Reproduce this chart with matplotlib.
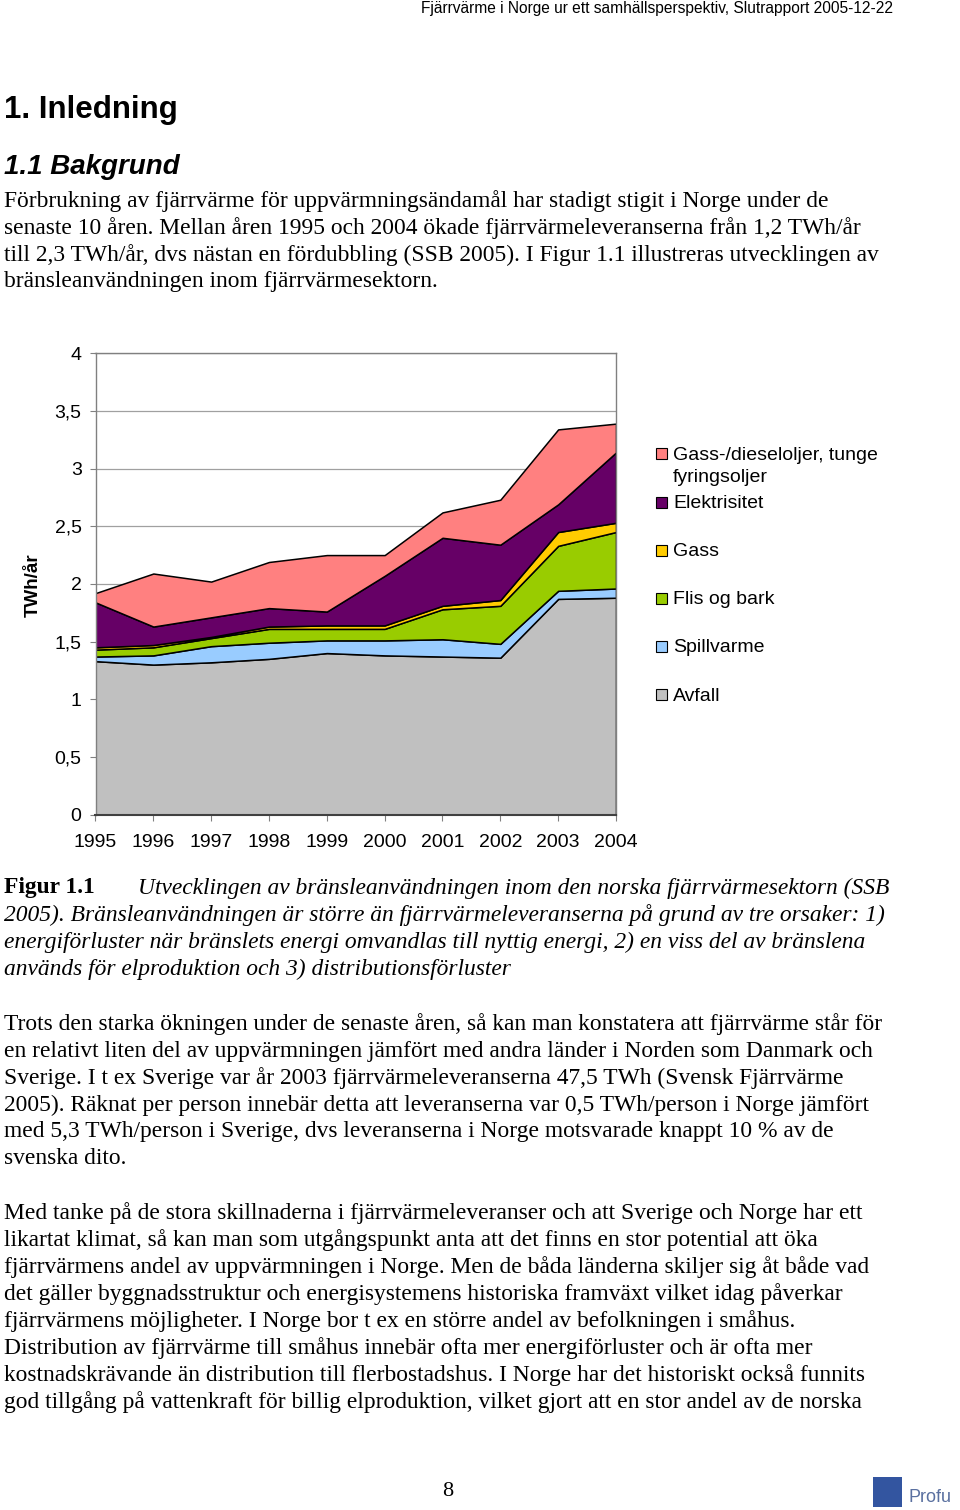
import matplotlib.pyplot as plt
from matplotlib.patches import Rectangle

YEARS = [1995, 1996, 1997, 1998, 1999, 2000, 2001, 2002, 2003, 2004]
SERIES = ["Avfall", "Spillvarme", "Flis og bark", "Gass", "Elektrisitet",
          "Gass-/dieseloljer, tunge\nfyringsoljer"]
AVFALL = [1.33, 1.30, 1.32, 1.35, 1.40, 1.38, 1.37, 1.36, 1.87, 1.88]
SPILLVARME = [0.04, 0.08, 0.14, 0.14, 0.11, 0.13, 0.15, 0.12, 0.07, 0.08]
FLIS = [0.06, 0.07, 0.07, 0.12, 0.10, 0.10, 0.26, 0.33, 0.39, 0.49]
GASS = [0.02, 0.02, 0.01, 0.02, 0.03, 0.03, 0.03, 0.05, 0.12, 0.08]
EL = [0.39, 0.16, 0.17, 0.16, 0.12, 0.43, 0.59, 0.48, 0.24, 0.61]
OLJA = [0.08, 0.46, 0.31, 0.40, 0.49, 0.18, 0.22, 0.39, 0.65, 0.25]
COLORS = ["#C0C0C0", "#99CCFF", "#99CC00", "#FFCC00", "#660066", "#FF8080"]
Y_TICKS = [0, 0.5, 1, 1.5, 2, 2.5, 3, 3.5, 4]
Y_TICK_LABELS = ["0", "0,5", "1", "1,5", "2", "2,5", "3", "3,5", "4"]

HEADER = "Fjärrvärme i Norge ur ett samhällsperspektiv, Slutrapport 2005-12-22"
PARA1 = [
    "Förbrukning av fjärrvärme för uppvärmningsändamål har stadigt stigit i Norge under de",
    "senaste 10 åren. Mellan åren 1995 och 2004 ökade fjärrvärmeleveranserna från 1,2 TWh/år",
    "till 2,3 TWh/år, dvs nästan en fördubbling (SSB 2005). I Figur 1.1 illustreras utvecklingen av",
    "bränsleanvändningen inom fjärrvärmesektorn.",
]
CAPTION = [
    "Utvecklingen av bränsleanvändningen inom den norska fjärrvärmesektorn (SSB",
    "2005). Bränsleanvändningen är större än fjärrvärmeleveranserna på grund av tre orsaker: 1)",
    "energiförluster när bränslets energi omvandlas till nyttig energi, 2) en viss del av bränslena",
    "används för elproduktion och 3) distributionsförluster",
]
PARA2 = [
    "Trots den starka ökningen under de senaste åren, så kan man konstatera att fjärrvärme står för",
    "en relativt liten del av uppvärmningen jämfört med andra länder i Norden som Danmark och",
    "Sverige. I t ex Sverige var år 2003 fjärrvärmeleveranserna 47,5 TWh (Svensk Fjärrvärme",
    "2005). Räknat per person innebär detta att leveranserna var 0,5 TWh/person i Norge jämfört",
    "med 5,3 TWh/person i Sverige, dvs leveranserna i Norge motsvarade knappt 10 % av de",
    "svenska dito.",
]
PARA3 = [
    "Med tanke på de stora skillnaderna i fjärrvärmeleveranser och att Sverige och Norge har ett",
    "likartat klimat, så kan man som utgångspunkt anta att det finns en stor potential att öka",
    "fjärrvärmens andel av uppvärmningen i Norge. Men de båda länderna skiljer sig åt både vad",
    "det gäller byggnadsstruktur och energisystemens historiska framväxt vilket idag påverkar",
    "fjärrvärmens möjligheter. I Norge bor t ex en större andel av befolkningen i småhus.",
    "Distribution av fjärrvärme till småhus innebär ofta mer energiförluster och är ofta mer",
    "kostnadskrävande än distribution till flerbostadshus. I Norge har det historiskt också funnits",
    "god tillgång på vattenkraft för billig elproduktion, vilket gjort att en stor andel av de norska",
]

W, H = 960, 1510
SERIF = "Liberation Serif"
SANS = "Liberation Sans"
BODY = 16.9
CHART_FS = 14


def fx(x):
    return x / W


def fy(y):
    return 1 - y / H


def lines(fig, rows, y0, x=4, **kw):
    for i, row in enumerate(rows):
        fig.text(fx(x), fy(y0 + 27 * i), row, va="center", ha="left",
                 family=SERIF, fontsize=BODY, **kw)


fig = plt.figure(figsize=(W / 100, H / 100), dpi=100)

# page text
fig.text(fx(893), fy(8), HEADER, ha="right", va="center", family=SANS, fontsize=11.2)
fig.text(fx(4), fy(110), "1. Inledning", ha="left", va="center",
         family=SANS, fontsize=22.5, fontweight="bold")
fig.text(fx(4), fy(167), "1.1 Bakgrund", ha="left", va="center",
         family=SANS, fontsize=20, fontweight="bold", style="italic")
lines(fig, PARA1, 201)
fig.text(fx(4), fy(888), "Figur 1.1", ha="left", va="center",
         family=SERIF, fontsize=BODY, fontweight="bold")
fig.text(fx(138), fy(888), CAPTION[0], ha="left", va="center",
         family=SERIF, fontsize=BODY, style="italic")
lines(fig, CAPTION[1:], 915, style="italic")
lines(fig, PARA2, 1024)
lines(fig, PARA3, 1213)
fig.text(fx(448), fy(1492), "8", ha="center", va="center", family=SERIF, fontsize=16)
fig.patches.append(Rectangle((fx(873), fy(1507)), fx(29), 30 / H,
                             transform=fig.transFigure, facecolor="#3355a0",
                             edgecolor="none"))
fig.text(fx(908), fy(1497), "Profu", ha="left", va="center", family=SANS,
         fontsize=13, color="#5a70a0")

# chart
ax = fig.add_axes([fx(95.5), fy(814.5), (616 - 95.5) / W, (814.5 - 353.3) / H])
stack = [AVFALL, SPILLVARME, FLIS, GASS, EL, OLJA]
ax.stackplot(YEARS, *stack, colors=COLORS, edgecolor="black", linewidth=1.1,
             zorder=2)
ax.set_xlim(YEARS[0], YEARS[-1])
ax.set_ylim(0, 4)
ax.set_yticks(Y_TICKS)
ax.set_yticklabels(Y_TICK_LABELS)
ax.set_xticks(YEARS)
ax.set_xticklabels([str(y) for y in YEARS])
for lab in ax.get_xticklabels() + ax.get_yticklabels():
    lab.set_family(SANS)
    lab.set_fontsize(CHART_FS)
ax.tick_params(axis="y", length=4, color="#808080", pad=6)
ax.tick_params(axis="x", length=4, color="#808080", pad=10)
ax.grid(axis="y", color="#a0a0a0", linewidth=0.9, zorder=1)
ax.set_axisbelow(True)
for side in ["left", "top", "right"]:
    ax.spines[side].set_color("#808080")
    ax.spines[side].set_linewidth(1.0)
ax.spines["bottom"].set_color("#404040")
ax.spines["bottom"].set_linewidth(1.5)
fig.text(fx(33), fy(585), "TWh/år", rotation=90, ha="center", va="center",
         family=SANS, fontsize=13.5, fontweight="bold")

# legend, top entry first (Excel spacing is uneven)
legend_y = [453, 502, 550, 598, 646, 694]
for name, color, yy in zip(SERIES[::-1], COLORS[::-1], legend_y):
    fig.patches.append(Rectangle((fx(656), fy(yy + 6)), fx(11), 11 / H,
                                 transform=fig.transFigure, facecolor=color,
                                 edgecolor="black", linewidth=0.8))
    first, *rest = name.split("\n")
    fig.text(fx(673), fy(yy + 6.5), first, ha="left", va="baseline",
             family=SANS, fontsize=CHART_FS)
    for k, extra in enumerate(rest, start=1):
        fig.text(fx(673), fy(yy + 6.5 + 23 * k), extra, ha="left", va="baseline",
                 family=SANS, fontsize=CHART_FS)

fig.savefig("out.png", dpi=100)
